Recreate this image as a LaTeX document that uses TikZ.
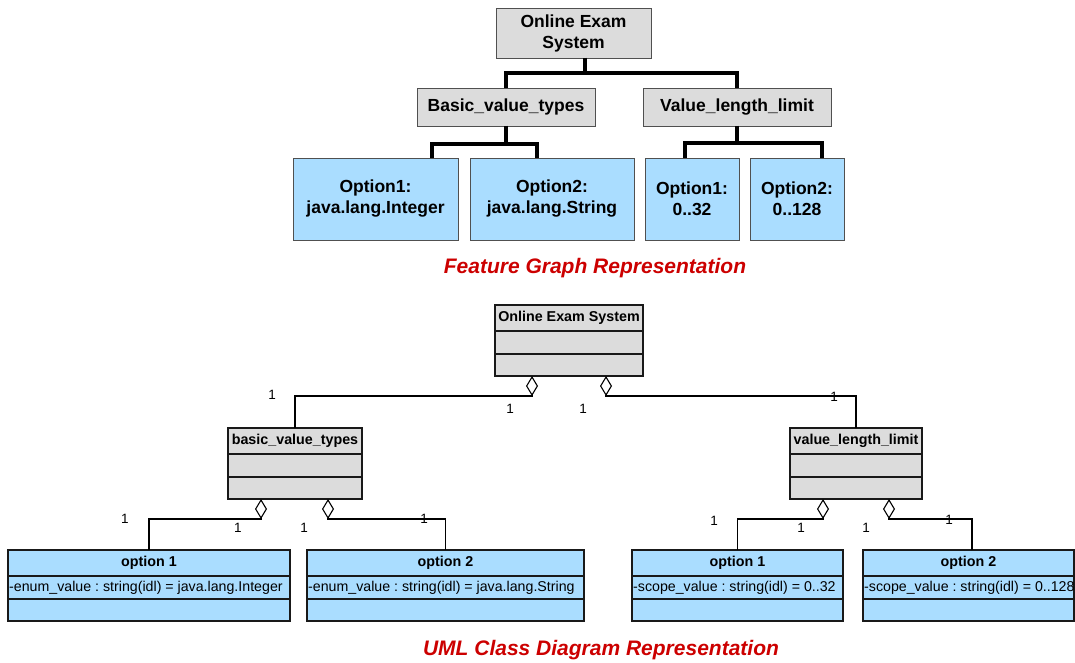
\documentclass[tikz,border=0pt]{standalone}
\usepackage{fontspec}
\setmainfont{Liberation Sans}
\usetikzlibrary{arrows.meta}
\frenchspacing

\definecolor{boxgray}{RGB}{220,220,220}
\definecolor{optblue}{RGB}{170,221,255}
\definecolor{titlered}{RGB}{204,0,0}
\definecolor{framegray}{RGB}{80,80,80}
\definecolor{umlframe}{RGB}{25,25,25}

% one UML class: name, x, y, width, fill, title
\newcommand\umlclass[6]{%
  \node[umlhead, fill=#5, minimum width=#4pt] (#1) at (#2,#3) {#6};
  \node[umlattr, fill=#5, minimum width=#4pt] (#1-a) at (#1.south west) {};
  \node[umlops,  fill=#5, minimum width=#4pt] (#1-o) at (#1-a.south west) {};
}

\begin{document}
\begin{tikzpicture}[x=1pt,y=-1pt,
  feat/.style={draw=framegray, line width=0.9pt, fill=boxgray, inner sep=0pt,
    outer sep=0pt, anchor=north west, align=center,
    font=\fontsize{17.5}{21}\selectfont\bfseries},
  featopt/.style={feat, fill=optblue},
  tree/.style={line width=4pt, line join=miter},
  caption/.style={text=titlered, font=\fontsize{21}{21}\selectfont\bfseries\itshape},
  umlbase/.style={draw=umlframe, line width=1.3pt, inner sep=0pt, outer sep=0pt,
    anchor=north west},
  umlhead/.style={umlbase, minimum height=26pt, font=\fontsize{14.3}{14}\selectfont\bfseries},
  umlattr/.style={umlbase, minimum height=23pt},
  umlops/.style={umlbase, minimum height=22pt},
  attrtext/.style={anchor=west, inner sep=0pt, font=\fontsize{14.2}{14}\selectfont},
  mult/.style={inner sep=0pt, font=\fontsize{13.5}{13}\selectfont},
  assoc/.style={draw=black, line width=1.1pt,
    -{Diamond[open,length=20pt,width=12pt]}},
]
\useasboundingbox (0,0) rectangle (1075,663);

% ---------------- feature graph ----------------
\node[feat, minimum width=155pt, minimum height=50pt] (root) at (496,8)
  {Online Exam\\System};
\node[feat, minimum width=178pt, minimum height=38pt] (basic) at (417,88)
  {Basic\_value\_types};
\node[feat, minimum width=188pt, minimum height=38pt] (vll) at (643,88)
  {Value\_length\_limit};

\node[featopt, minimum width=165pt, minimum height=82pt] (fo1) at (293,158)
  {Option1:\\java.lang.Integer};
\node[featopt, minimum width=164pt, minimum height=82pt] (fo2) at (470,158)
  {Option2:\\java.lang.String};
\node[featopt, minimum width=94pt, minimum height=82pt] (fo3) at (645,158)
  {Option1:\\0..32};
\node[featopt, minimum width=94pt, minimum height=82pt] (fo4) at (750,158)
  {Option2:\\0..128};

\draw[tree] ([xshift=11pt]root.south) -- ++(0,15) -| (basic.north);
\draw[tree] ([xshift=11pt]root.south) -- ++(0,15) -| (vll.north);
\draw[tree] (basic.south) -- ++(0,18) -| ([xshift=139pt]fo1.north west);
\draw[tree] (basic.south) -- ++(0,18) -| ([xshift=67pt]fo2.north west);
\draw[tree] (vll.south) -- ++(0,17) -| ([xshift=40pt]fo3.north west);
\draw[tree] (vll.south) -- ++(0,17) -| ([xshift=72pt]fo4.north west);

\node[caption] (fgcap) at (595,268) {Feature Graph Representation};

% ---------------- UML class diagram ----------------
\umlclass{sys}{495}{305}{148}{boxgray}{Online Exam System}
\umlclass{bvt}{228}{428}{134}{boxgray}{basic\_value\_types}
\umlclass{vlc}{790}{428}{132}{boxgray}{value\_length\_limit}

\umlclass{ua}{8}{550}{282}{optblue}{option 1}
\umlclass{ub}{307}{550}{277}{optblue}{option 2}
\umlclass{uc}{632}{550}{211}{optblue}{option 1}
\umlclass{ud}{863}{550}{211}{optblue}{option 2}

\node[attrtext] (ua-t) at ([xshift=1pt]ua-a.west) {-enum\_value : string(idl) = java.lang.Integer};
\node[attrtext] (ub-t) at ([xshift=1pt]ub-a.west) {-enum\_value : string(idl) = java.lang.String};
\node[attrtext] (uc-t) at ([xshift=1pt]uc-a.west) {-scope\_value : string(idl) = 0..32};
\node[attrtext] (ud-t) at ([xshift=1pt]ud-a.west) {-scope\_value : string(idl) = 0..128};

% aggregations
\draw[assoc] (bvt.north) |- ([xshift=-37pt,yshift=-20pt]sys-o.south) -- ([xshift=-37pt]sys-o.south);
\draw[assoc] (vlc.north) |- ([xshift=37pt,yshift=-20pt]sys-o.south) -- ([xshift=37pt]sys-o.south);
\draw[assoc] (ua.north) |- ([xshift=-34pt,yshift=-20pt]bvt-o.south) -- ([xshift=-34pt]bvt-o.south);
\draw[assoc] (ub.north) |- ([xshift=33pt,yshift=-20pt]bvt-o.south) -- ([xshift=33pt]bvt-o.south);
\draw[assoc] (uc.north) |- ([xshift=-33pt,yshift=-20pt]vlc-o.south) -- ([xshift=-33pt]vlc-o.south);
\draw[assoc] ([xshift=3.5pt]ud.north) |- ([xshift=33pt,yshift=-20pt]vlc-o.south) -- ([xshift=33pt]vlc-o.south);

% multiplicities
\node[mult] (m1)  at (272,395) {1};
\node[mult] (m2)  at (510,409) {1};
\node[mult] (m3)  at (583,409) {1};
\node[mult] (m4)  at (834,397) {1};
\node[mult] (m5)  at (125,519) {1};
\node[mult] (m6)  at (238,528) {1};
\node[mult] (m7)  at (304,528) {1};
\node[mult] (m8)  at (424,519) {1};
\node[mult] (m9)  at (714,521) {1};
\node[mult] (m10) at (801,528) {1};
\node[mult] (m11) at (866,528) {1};
\node[mult] (m12) at (949,520) {1};

\node[caption] (umlcap) at (601,650) {UML Class Diagram Representation};
\end{tikzpicture}
\end{document}
